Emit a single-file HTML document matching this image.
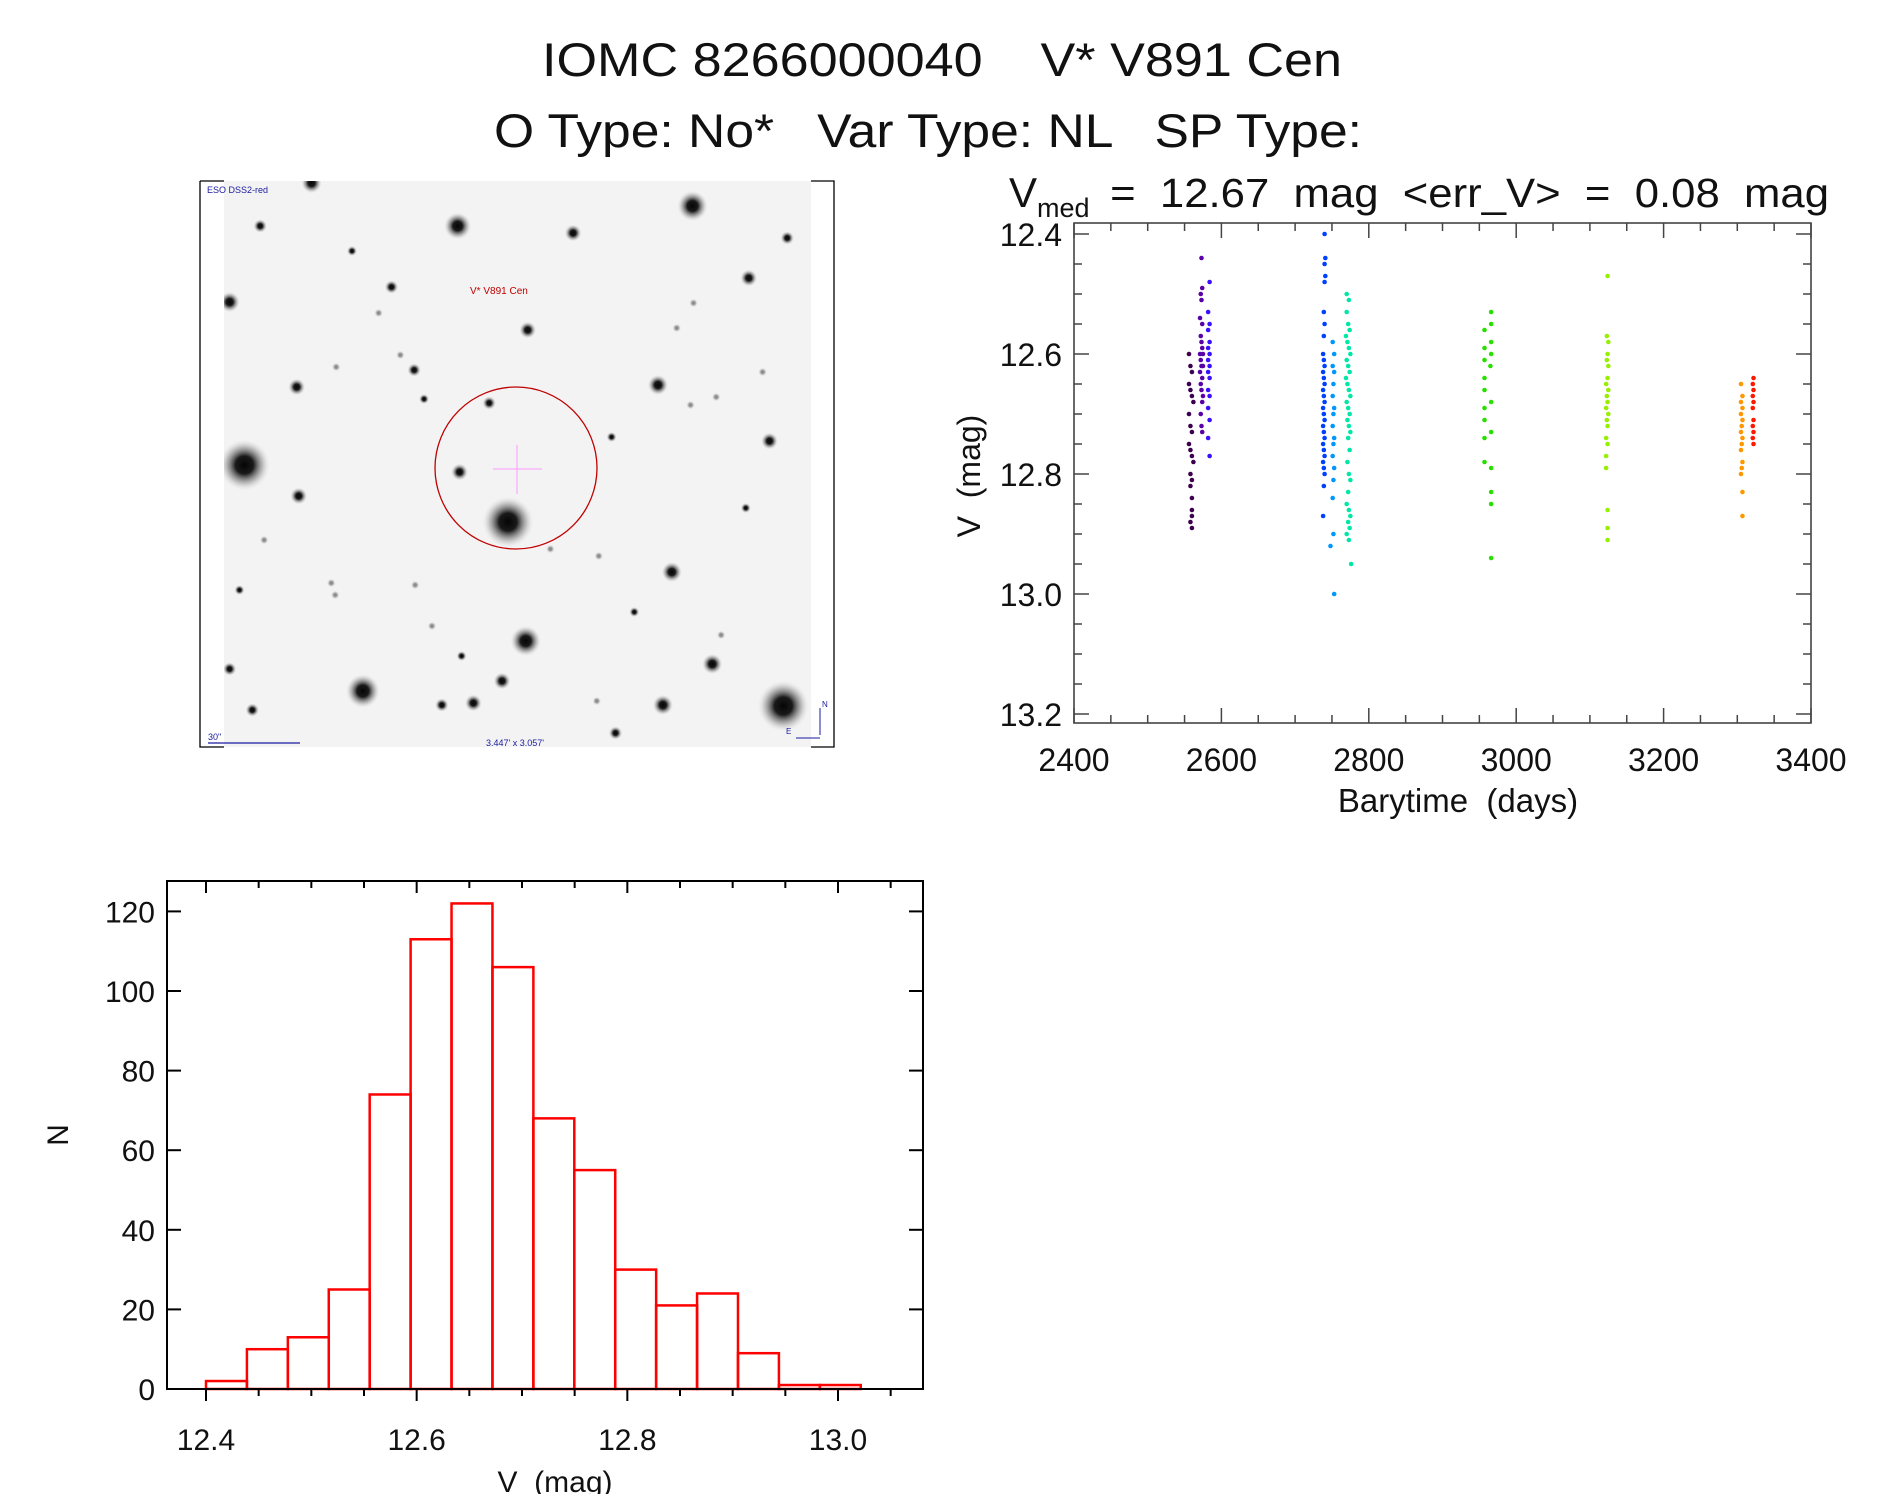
<!DOCTYPE html>
<html><head><meta charset="utf-8"><style>
html,body{margin:0;padding:0;background:#fff;}
svg{display:block;font-family:"Liberation Sans","DejaVu Sans",sans-serif;}
text{white-space:pre;}
</style></head><body>
<svg id="fig" width="1889" height="1494" viewBox="0 0 1889 1494" xmlns="http://www.w3.org/2000/svg" xml:space="preserve">
<defs>
<radialGradient id="starg"><stop offset="0" stop-color="#050505"/><stop offset="0.35" stop-color="#1a1a1a"/><stop offset="0.7" stop-color="#888" stop-opacity="0.55"/><stop offset="1" stop-color="#ddd" stop-opacity="0"/></radialGradient>
<clipPath id="imgclip"><rect x="224" y="181" width="587" height="566"/></clipPath>
</defs>
<rect width="1889" height="1494" fill="#fff"/>
<text x="542" y="76" font-size="47" textLength="800" lengthAdjust="spacingAndGlyphs" fill="#111">IOMC 8266000040    V* V891 Cen</text>
<text x="494" y="147" font-size="47" textLength="868" lengthAdjust="spacingAndGlyphs" fill="#111">O Type: No*   Var Type: NL   SP Type:</text>

<g id="sky">
<rect x="224" y="181" width="587" height="566" fill="#f3f3f3"/>
<g id="stars" clip-path="url(#imgclip)"></g>
<circle cx="516" cy="468" r="81" fill="none" stroke="#c00000" stroke-width="1.3"/>
<line x1="493" y1="469" x2="542" y2="469" stroke="#ff99ff" stroke-width="1"/>
<line x1="517" y1="445" x2="517" y2="494" stroke="#ff99ff" stroke-width="1"/>
<text x="470" y="294" font-size="10" fill="#c00000">V* V891 Cen</text>
<text x="207" y="193" font-size="9" fill="#1a1aa0">ESO DSS2-red</text>
<text x="208" y="740" font-size="9" fill="#1a1aa0">30"</text>
<line x1="208" y1="743" x2="300" y2="743" stroke="#1a1aa0" stroke-width="1.2"/>
<text x="486" y="746" font-size="9" fill="#1a1aa0">3.447' x 3.057'</text>
<text x="822" y="707" font-size="8" fill="#1a1aa0">N</text>
<line x1="820" y1="708" x2="820" y2="735" stroke="#1a1aa0"/>
<text x="786" y="734" font-size="8" fill="#1a1aa0">E</text>
<line x1="796" y1="738" x2="820" y2="738" stroke="#1a1aa0"/>
<path d="M200 181 H224 M811 181 H834 V747 H811 M224 747 H200 V181" fill="none" stroke="#000" stroke-width="1.3"/>
</g>

<g id="lc"></g>
<g id="hist"></g>
</svg>
<script>
// ---------- Light curve data ----------
const lcXTicks = [2400, 2600, 2800, 3000, 3200, 3400];
const lcYTicks = [12.4, 12.6, 12.8, 13.0, 13.2];
const lcYTickLabels = ["12.4", "12.6", "12.8", "13.0", "13.2"];
const season1 = [[2556,12.60],[2558,12.62],[2560,12.63],[2556,12.65],[2558,12.66],[2560,12.67],[2562,12.68],[2556,12.70],[2558,12.72],[2560,12.73],[2556,12.75],[2558,12.76],[2560,12.77],[2562,12.78],[2558,12.80],[2560,12.81],[2558,12.82],[2560,12.84],[2560,12.86],[2560,12.87],[2558,12.88],[2560,12.89]];
const season2 = [[2573,12.44],[2574,12.49],[2572,12.50],[2573,12.51],[2571,12.54],[2574,12.55],[2572,12.57],[2573,12.58],[2574,12.59],[2571,12.60],[2575,12.60],[2572,12.61],[2573,12.62],[2575,12.62],[2571,12.63],[2574,12.64],[2572,12.65],[2573,12.66],[2575,12.67],[2574,12.68],[2572,12.70],[2573,12.72],[2574,12.73]];
const season3 = [[2584,12.48],[2582,12.53],[2584,12.55],[2582,12.56],[2584,12.58],[2582,12.59],[2584,12.60],[2582,12.61],[2584,12.62],[2582,12.63],[2584,12.64],[2582,12.66],[2584,12.67],[2582,12.69],[2584,12.71],[2582,12.74],[2584,12.77]];
const season4 = [[2740,12.40],[2741,12.44],[2740,12.45],[2741,12.47],[2740,12.48],[2739,12.53],[2740,12.55],[2739,12.57],[2738,12.60],[2739,12.61],[2740,12.62],[2738,12.63],[2739,12.64],[2740,12.65],[2738,12.66],[2739,12.67],[2740,12.68],[2738,12.69],[2739,12.70],[2740,12.71],[2738,12.72],[2739,12.73],[2740,12.74],[2738,12.75],[2739,12.76],[2740,12.77],[2738,12.78],[2739,12.79],[2740,12.80],[2739,12.82],[2738,12.87]];
const season5 = [[2751,12.58],[2753,12.60],[2751,12.62],[2753,12.63],[2752,12.65],[2751,12.67],[2753,12.69],[2752,12.70],[2751,12.72],[2753,12.74],[2752,12.75],[2751,12.77],[2753,12.79],[2752,12.81],[2751,12.84],[2752,12.90],[2748,12.92],[2753,13.00]];
const season6 = [[2770,12.50],[2773,12.51],[2770,12.53],[2772,12.55],[2774,12.56],[2769,12.57],[2771,12.58],[2773,12.59],[2775,12.60],[2770,12.61],[2772,12.62],[2774,12.63],[2769,12.64],[2771,12.65],[2773,12.66],[2775,12.67],[2770,12.68],[2772,12.69],[2774,12.70],[2771,12.71],[2773,12.72],[2775,12.73],[2772,12.74],[2774,12.76],[2771,12.78],[2773,12.80],[2775,12.81],[2772,12.83],[2770,12.85],[2773,12.86],[2775,12.87],[2772,12.88],[2774,12.89],[2770,12.90],[2773,12.91],[2776,12.95]];
const season7 = [[2966,12.53],[2966,12.55],[2957,12.56],[2966,12.58],[2957,12.59],[2966,12.60],[2957,12.61],[2965,12.62],[2957,12.64],[2957,12.66],[2966,12.68],[2957,12.69],[2957,12.71],[2966,12.73],[2957,12.74],[2957,12.78],[2966,12.79],[2966,12.83],[2966,12.85],[2966,12.94]];
const season8 = [[3124,12.47],[3123,12.57],[3125,12.58],[3124,12.60],[3123,12.61],[3125,12.62],[3124,12.64],[3122,12.65],[3125,12.66],[3123,12.67],[3124,12.68],[3122,12.69],[3125,12.70],[3123,12.71],[3124,12.72],[3122,12.74],[3124,12.75],[3122,12.77],[3122,12.79],[3124,12.86],[3124,12.89],[3124,12.91]];
const season9 = [[3305,12.65],[3307,12.67],[3305,12.68],[3307,12.69],[3305,12.70],[3307,12.71],[3306,12.72],[3305,12.73],[3307,12.74],[3306,12.75],[3305,12.76],[3307,12.78],[3306,12.79],[3305,12.80],[3307,12.83],[3307,12.87]];
const season10 = [[3322,12.64],[3321,12.65],[3322,12.66],[3321,12.67],[3322,12.68],[3321,12.69],[3322,12.71],[3321,12.72],[3322,12.73],[3321,12.74],[3322,12.75]];
const seasonColors = ["#3c0050","#5a00a8","#3a10ff","#0040ff","#0098ff","#00e8a8","#28e000","#98f000","#ff9800","#ff1800"];

// ---------- Histogram data ----------
const histBinStart = 12.40;
const histBinWidth = 0.03885;
const histCounts = [2, 10, 13, 25, 74, 113, 122, 106, 68, 55, 30, 21, 24, 9, 1, 1];
const histXTicks = [12.4, 12.6, 12.8, 13.0];
const histXTickLabels = ["12.4", "12.6", "12.8", "13.0"];
const histYTicks = [0, 20, 40, 60, 80, 100, 120];

// ---------- Stars (sky image) ----------
const starPos = [[699,206,9],[461,226,8],[578,233,5],[313,183,6],[261,226,4],[795,238,4],[354,251,3],[230,302,6],[394,287,4],[756,278,5],[532,330,5],[664,385,6],[298,387,5],[417,370,4],[493,403,4],[777,441,5],[245,465,15],[463,472,5],[300,496,5],[512,522,15],[678,572,6],[530,641,9],[719,664,6],[365,691,10],[506,681,5],[445,705,4],[477,703,5],[669,705,6],[791,706,15],[253,710,4],[230,669,4],[621,733,4],[753,508,3],[381,313,2],[427,399,3],[338,367,2],[403,355,2],[617,437,3],[697,405,2],[723,397,2],[770,372,2],[555,549,2],[640,612,3],[435,626,2],[465,656,3],[418,585,2],[337,595,2],[604,556,2],[728,635,2],[827,602,2],[602,701,2],[333,583,2],[240,590,3],[265,540,2],[700,303,2],[683,328,2]];

const NS = "http://www.w3.org/2000/svg";
function mk(tag, attrs, parent){const e=document.createElementNS(NS,tag);for(const k in attrs)e.setAttribute(k,attrs[k]);parent.appendChild(e);return e;}

const starsG=document.getElementById('stars');
starPos.forEach(s=>{
  const big=s[2]>=3;
  const c=mk('circle',{cx:200+(s[0]-200)*0.987,cy:s[1],r:s[2]*(big?1.7:2.2),fill:'url(#starg)','fill-opacity':big?1:0.45},starsG);
  
  
});

// ---------- Light curve ----------
(function(){
  const g=document.getElementById('lc');
  const L=1074,R=1811,T=223,B=723;
  const x=t=>L+(t-2400)/1000*(R-L);
  const y=m=>234+(m-12.4)/0.8*(714-234);
  const ax='#444';
  for(let t=2400;t<=3400;t+=50){
    const major=(t%200===0), len=major?15:8;
    mk('line',{x1:x(t),x2:x(t),y1:B,y2:B-len,stroke:ax,'stroke-width':1.5},g);
    mk('line',{x1:x(t),x2:x(t),y1:T,y2:T+len,stroke:ax,'stroke-width':1.5},g);
  }
  for(let i=0;i<=16;i++){
    const m=12.4+i*0.05, major=(i%4===0), len=major?15:8;
    mk('line',{x1:L,x2:L+len,y1:y(m),y2:y(m),stroke:ax,'stroke-width':1.5},g);
    mk('line',{x1:R,x2:R-len,y1:y(m),y2:y(m),stroke:ax,'stroke-width':1.5},g);
  }
  const fr=mk('rect',{x:L,y:T,width:R-L,height:B-T,fill:'none',stroke:ax,'stroke-width':1.6},g);
  
  
  lcXTicks.forEach(t=>{
    const tx=mk('text',{x:x(t),y:771,'font-size':32,'text-anchor':'middle',fill:'#111'},g);
    tx.textContent=String(t);
    
    
  });
  lcYTicks.forEach((m,i)=>{
    const tx=mk('text',{x:1062,y:y(m)+12,'font-size':32,'text-anchor':'end',fill:'#111'},g);
    tx.textContent=lcYTickLabels[i];
    
    
  });
  const xt=mk('text',{x:1458,y:812,'font-size':33,'text-anchor':'middle',fill:'#111'},g);
  xt.textContent='Barytime  (days)';
  
  
  const yt=mk('text',{x:0,y:0,'font-size':32,'text-anchor':'middle',fill:'#111',transform:'translate(980,476) rotate(-90)'},g);
  yt.textContent='V  (mag)';
  
  
  const st1=mk('text',{x:1009,y:207,'font-size':42,fill:'#111'},g);
  st1.textContent='V';
  
  
  const st2=mk('text',{x:1037,y:217,'font-size':27,fill:'#111'},g);
  st2.textContent='med';
  
  
  const st3=mk('text',{x:1098,y:207,'font-size':41,fill:'#111',textLength:731,lengthAdjust:'spacingAndGlyphs'},g);
  st3.textContent=' =  12.67  mag  <err_V>  =  0.08  mag';
  
  
  const seasons=[season1,season2,season3,season4,season5,season6,season7,season8,season9,season10];
  seasons.forEach((s,si)=>{
    s.forEach(p=>{
      const c=mk('circle',{cx:x(p[0]),cy:y(p[1]),r:2.3,fill:seasonColors[si]},g);
      
      
    });
  });
})();

// ---------- Histogram ----------
(function(){
  const g=document.getElementById('hist');
  const L=167,R=923,T=881,B=1389;
  const x=v=>206+(v-12.4)/0.6*(838-206);
  const y=n=>1389-n*3.98;
  histCounts.forEach((n,i)=>{
    const x0=x(histBinStart+i*histBinWidth), x1=x(histBinStart+(i+1)*histBinWidth);
    const r=mk('rect',{x:x0,y:y(n),width:x1-x0,height:B-y(n),fill:'none',stroke:'#ff0000','stroke-width':2.5},g);
    
    
  });
  for(let i=0;i<=13;i++){
    const v=12.4+i*0.05; const major=(i%4===0);
    const xx=x(v);
    if(xx>R)continue;
    mk('line',{x1:xx,x2:xx,y1:B,y2:B+(major?12:7),stroke:'#000','stroke-width':2},g);
    mk('line',{x1:xx,x2:xx,y1:T,y2:T+(major?12:7),stroke:'#000','stroke-width':2},g);
  }
  histYTicks.forEach(n=>{
    mk('line',{x1:L,x2:L+14,y1:y(n),y2:y(n),stroke:'#000','stroke-width':2},g);
    mk('line',{x1:R,x2:R-14,y1:y(n),y2:y(n),stroke:'#000','stroke-width':2},g);
    const tx=mk('text',{x:155,y:y(n)+11,'font-size':30,'text-anchor':'end',fill:'#111'},g);
    tx.textContent=String(n);
    
    
  });
  const fr=mk('rect',{x:L,y:T,width:R-L,height:B-T,fill:'none',stroke:'#000','stroke-width':2},g);
  
  
  histXTicks.forEach((v,i)=>{
    const tx=mk('text',{x:x(v),y:1450,'font-size':30,'text-anchor':'middle',fill:'#111'},g);
    tx.textContent=histXTickLabels[i];
    
    
  });
  const xt=mk('text',{x:555,y:1492,'font-size':30,'text-anchor':'middle',fill:'#111'},g);
  xt.textContent='V  (mag)';
  
  
  const yt=mk('text',{x:0,y:0,'font-size':30,'text-anchor':'middle',fill:'#111',transform:'translate(68,1135) rotate(-90)'},g);
  yt.textContent='N';
  
  
})();
</script>
</body></html>
